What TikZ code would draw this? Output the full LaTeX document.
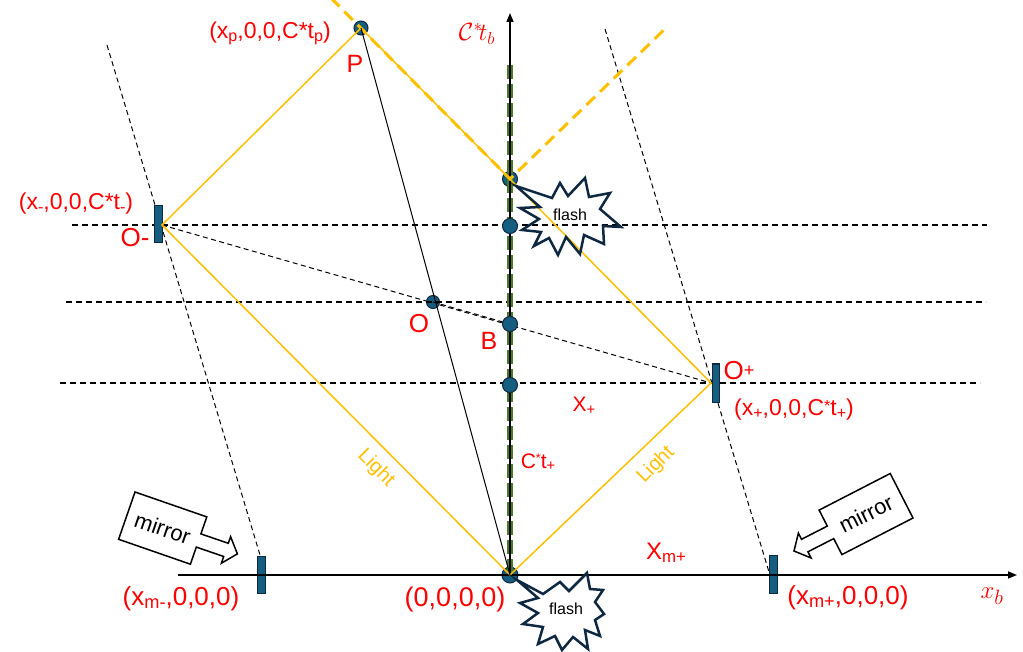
\documentclass[tikz,border=0pt]{standalone}
\usepackage{fontspec}
\setmainfont{Liberation Sans}
\usepackage{graphicx}
\usetikzlibrary{arrows.meta}
\definecolor{lightY}{RGB}{255,192,0}
\definecolor{dotF}{RGB}{22,94,128}
\definecolor{dotB}{RGB}{14,40,65}
\definecolor{grn}{RGB}{72,122,40}
\definecolor{labred}{RGB}{255,0,0}
\newcommand\lsb[1]{\raisebox{-0.12em}{\scalebox{0.7}{#1}}}
\newcommand\fsz[1]{\fontsize{#1}{#1}\selectfont}
\begin{document}
\begin{tikzpicture}[x=1pt,y=-1pt,
  dot/.style={circle, fill=dotF, draw=dotB, line width=1pt, inner sep=0pt, minimum size=15pt},
  mirr/.style={fill=dotF, draw=dotB, line width=1pt},
  hdash/.style={dash pattern=on 6pt off 4pt, line width=1.2pt},
  sdash/.style={dash pattern=on 5pt off 3.5pt, line width=1pt},
  lt/.style={draw=lightY, line width=1.5pt},
  ltdash/.style={draw=lightY, line width=3pt, dash pattern=on 12pt off 7pt},
  grnline/.style={draw=grn, line width=6pt, dash pattern=on 14pt off 5pt},
  axisline/.style={line width=1.5pt, -{Triangle[length=9pt,width=7pt]}},
  flashline/.style={draw=dotB, line width=2.5pt, line join=miter},
  lab/.style={text=labred, inner sep=0pt},
  ltxt/.style={text=lightY, inner sep=0pt, font=\fsz{20}},
  mtxt/.style={inner sep=0pt, font=\fsz{22}},
  box/.style={draw=black, line width=1.5pt, fill=white, line join=miter}]
\useasboundingbox (0,0) rectangle (1023,652);
\fill[white] (0,0) rectangle (1023,652);

% key points
\coordinate (Z) at (510,575);
\coordinate (P) at (361,28);
\coordinate (Om) at (162,225);
\coordinate (Op) at (711,383);
\coordinate (F) at (510,179);
\coordinate (O) at (433,302);
\coordinate (B) at (510,324);
\coordinate (D1) at (510,226);
\coordinate (D3) at (510,385);
\coordinate (XL) at (178,575);
\coordinate (XR) at (1017,575);
\coordinate (TT) at (510,13);
\coordinate (G0) at (510,65);
\coordinate (h1l) at (72,225);  \coordinate (h1r) at (987,225);
\coordinate (h2l) at (66,302);  \coordinate (h2r) at (986,302);
\coordinate (h3l) at (60,383);  \coordinate (h3r) at (980,383);
\coordinate (sl1) at (107,45);  \coordinate (sl2) at (260,555);
\coordinate (sr1) at (605,29);  \coordinate (sr2) at (769,572);
\coordinate (yd0) at (331,-2);  \coordinate (yd1) at (668,26);

% dashed construction lines
\draw[hdash] (h1l) -- (h1r);
\draw[hdash] (h2l) -- (h2r);
\draw[hdash] (h3l) -- (h3r);
\draw[sdash] (sl1) -- (sl2);
\draw[sdash] (sr1) -- (sr2);
\draw[sdash] (Om) -- (Op);

% mirrors
\draw[mirr] (154,206) rectangle (162,243);
\draw[mirr] (712,364) rectangle (719,402);
\draw[mirr] (257,556) rectangle (265,593);
\draw[mirr] (769,555) rectangle (777,593);

% dots under lines
\node[dot, minimum size=14pt] (dP) at (P) {};
\node[dot] (dF) at (F) {};
\node[dot, minimum size=13pt] (dO) at (O) {};
\node[dot, minimum size=16pt] (dZ) at (Z) {};

% green worldline and axes
\draw[grnline] (G0) -- (Z);
\draw[axisline] (Z) -- (TT);
\draw[axisline] (XL) -- (XR);

% light lines
\draw[lt] (Z) -- (Om) -- (P) -- (Op) -- (Z);
\draw[ltdash] (yd0) -- (F) -- (yd1);
\draw[line width=1pt] (P) -- (Z);
\draw[sdash] (O) -- (B);
\draw[hdash] (dO.west) -- (dO.east);

% dots on top
\node[dot] (d1) at (D1) {};
\node[dot] (dB) at (B) {};
\node[dot] (d3) at (D3) {};

% flashes
\draw[flashline] (516,186) -- (552,198) -- (560,183) -- (568,196) -- (585,178) -- (589,197)
  -- (610,193) -- (600,209) -- (621,227) -- (603,226) -- (604,244) -- (584,235)
  -- (580,254) -- (566,237) -- (558,255) -- (549,238) -- (534,246) -- (541,232)
  -- (522,230) -- (539,219) -- (520,208) -- (540,207) -- cycle;
\node[inner sep=0pt, font=\fsz{16}] (fl1) at (570,215) {flash};
\draw[flashline] (517,580) -- (543,594) -- (560,582) -- (569,591) -- (587,573) -- (590,589)
  -- (603,590) -- (595,602) -- (604,614) -- (595,620) -- (600,636) -- (585,630)
  -- (588,649) -- (573,637) -- (562,650) -- (555,636) -- (538,644) -- (543,627)
  -- (523,624) -- (538,613) -- (520,603) -- (538,598) -- cycle;
\node[inner sep=0pt, font=\fsz{16}] (fl2) at (566,609) {flash};

% mirror callouts
\draw[box] (135,492) -- (206.8,516.9) -- (200.9,533.9) -- (228.3,543.3) -- (230.6,536.7)
  -- (237.4,553.9) -- (221.4,563.2) -- (223.7,556.5) -- (196.3,547.1) -- (190.4,564.2)
  -- (118.6,539.3) -- cycle;
\node[mtxt, rotate=-19.1] (mt1) at (162.7,528) {mirror};
\draw[box] (913,518) -- (841.9,554.6) -- (833.7,538.6) -- (807.9,551.8) -- (811.1,558)
  -- (794,551) -- (798.4,533.1) -- (801.5,539.3) -- (827.3,526.1) -- (819.1,510.1)
  -- (890.2,473.5) -- cycle;
\node[mtxt, rotate=26.6] (mt2) at (866,514) {mirror};

% Light labels
\node[ltxt, rotate=-45] (lL1) at (376,468) {Light};
\node[ltxt, rotate=45] (lL2) at (656,465) {Light};

% red labels
\node[lab, font=\fsz{23}] (lp) at (270,33) {(x\lsb{p},0,0,C*t\lsb{p})};
\node[lab, font=\fsz{25}] (lP) at (355,64) {P};
\node[lab, font=\fsz{27}] (lct) at (477,34) {$\mathcal{C}^{\ast}\!t_{b}$};
\node[lab, font=\fsz{23}] (lm) at (76,204) {(x\lsb{-},0,0,C*t\lsb{-})};
\node[lab, font=\fsz{26}] (lOm) at (135,238) {O-};
\node[lab, font=\fsz{26}] (lO) at (419,324) {O};
\node[lab, font=\fsz{25}] (lB) at (489,341) {B};
\node[lab, font=\fsz{26}] (lOp) at (739,371) {O\raisebox{0.12em}{\scalebox{0.7}{+}}};
\node[lab, font=\fsz{23}] (lpp) at (794,410) {(x\lsb{+},0,0,C\raisebox{0.2em}{\scalebox{0.7}{*}}t\lsb{+})};
\node[lab, font=\fsz{21}] (lX) at (584,406) {X\lsb{+}};
\node[lab, font=\fsz{21}] (lCt) at (538,462) {C\raisebox{0.25em}{\scalebox{0.6}{*}}t\lsb{+}};
\node[lab, font=\fsz{26}] (lmm) at (181,599) {(x\lsb{m-},0,0,0)};
\node[lab, font=\fsz{27}] (lZ) at (455,600) {(0,0,0,0)};
\node[lab, font=\fsz{24}] (lXm) at (666,553) {X\lsb{m+}};
\node[lab, font=\fsz{26}] (lmp) at (848,598) {(x\lsb{m+},0,0,0)};
\node[lab, font=\fsz{31}] (lxb) at (992,596) {$x_{b}$};
\end{tikzpicture}
\end{document}
